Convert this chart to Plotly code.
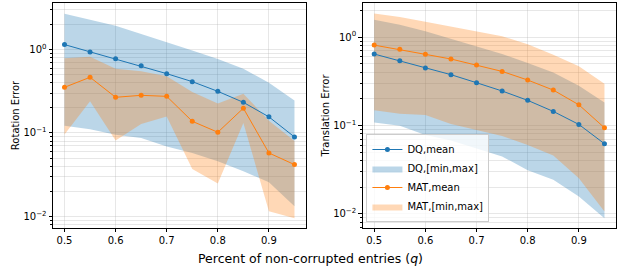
import plotly.graph_objects as go

q = [0.5, 0.55, 0.6, 0.65, 0.7, 0.75, 0.8, 0.85, 0.9, 0.95]

# Rotation error
rot_dq_mean = [1.15, 0.94, 0.78, 0.64, 0.515, 0.413, 0.316, 0.233, 0.156, 0.0895]
rot_dq_max = [2.7, 2.29, 1.94, 1.54, 1.24, 0.98, 0.77, 0.59, 0.40, 0.246]
rot_dq_min = [0.122, 0.111, 0.095, 0.087, 0.069, 0.0575, 0.0457, 0.0347, 0.0256, 0.0132]
rot_mat_mean = [0.353, 0.466, 0.268, 0.283, 0.275, 0.138, 0.102, 0.198, 0.0575, 0.0417]
rot_mat_max = [0.79, 0.82, 0.59, 0.55, 0.48, 0.31, 0.225, 0.296, 0.14, 0.08]
rot_mat_min = [0.096, 0.24, 0.081, 0.128, 0.158, 0.037, 0.0247, 0.132, 0.0115, 0.0095]

# Translation error
tr_dq_mean = [0.642, 0.54, 0.446, 0.375, 0.304, 0.245, 0.192, 0.144, 0.1026, 0.062]
tr_dq_max = [1.57, 1.38, 1.16, 0.957, 0.78, 0.642, 0.508, 0.398, 0.281, 0.182]
tr_dq_min = [0.108, 0.099, 0.078, 0.0676, 0.0554, 0.0446, 0.031, 0.0243, 0.0157, 0.0089]
tr_mat_mean = [0.81, 0.725, 0.637, 0.564, 0.482, 0.408, 0.326, 0.251, 0.171, 0.094]
tr_mat_max = [1.84, 1.68, 1.49, 1.32, 1.16, 1.02, 0.83, 0.63, 0.466, 0.296]
tr_mat_min = [0.148, 0.1355, 0.131, 0.104, 0.089, 0.076, 0.060, 0.0457, 0.0253, 0.0106]

x_ticks = [0.5, 0.6, 0.7, 0.8, 0.9]
y_major = [0.01, 0.1, 1]
y_major_text = ["10<sup>−2</sup>", "10<sup>−1</sup>", "10<sup>0</sup>"]
y_minor = [d * 10 ** e for e in (-3, -2, -1, 0) for d in range(2, 10)]

BLUE = "#1f77b4"
ORANGE = "#ff7f0e"
BLUE_FILL = "rgba(31,119,180,0.3)"
ORANGE_FILL = "rgba(255,127,14,0.3)"
FONT = "DejaVu Sans"

fig = go.Figure()


def band(xa, ya, lo, hi, color, name, show):
    fig.add_trace(go.Scatter(
        x=q + q[::-1], y=hi + lo[::-1], fill="toself", fillcolor=color,
        line=dict(width=0), mode="lines", name=name, showlegend=show,
        xaxis=xa, yaxis=ya, hoverinfo="skip"))


def mean(xa, ya, vals, color, name, show):
    fig.add_trace(go.Scatter(
        x=q, y=vals, mode="lines+markers", line=dict(color=color, width=1),
        marker=dict(color=color, size=5), name=name, showlegend=show,
        xaxis=xa, yaxis=ya))


# left panel
band("x", "y", rot_dq_min, rot_dq_max, BLUE_FILL, "DQ,[min,max]", False)
band("x", "y", rot_mat_min, rot_mat_max, ORANGE_FILL, "MAT,[min,max]", False)
mean("x", "y", rot_dq_mean, BLUE, "DQ,mean", False)
mean("x", "y", rot_mat_mean, ORANGE, "MAT,mean", False)

# right panel
band("x2", "y2", tr_dq_min, tr_dq_max, BLUE_FILL, "DQ,[min,max]", True)
band("x2", "y2", tr_mat_min, tr_mat_max, ORANGE_FILL, "MAT,[min,max]", True)
mean("x2", "y2", tr_dq_mean, BLUE, "DQ,mean", True)
mean("x2", "y2", tr_mat_mean, ORANGE, "MAT,mean", True)

# legend order
fig.data[6].legendrank = 1
fig.data[4].legendrank = 2
fig.data[7].legendrank = 3
fig.data[5].legendrank = 4

GRID = "rgba(176,176,176,0.3)"

xax = dict(range=[0.4775, 0.9725], tickvals=x_ticks, ticktext=[str(v) for v in x_ticks],
           ticks="outside", ticklen=3.5, tickwidth=0.8, tickcolor="black",
           showline=True, linecolor="black", linewidth=1, mirror=True,
           showgrid=True, gridcolor=GRID, gridwidth=0.8, zeroline=False, automargin=False,
           tickfont=dict(size=10, color="black", family=FONT))


def yax(rng, title):
    return dict(type="log", range=rng, tickvals=y_major, ticktext=y_major_text,
                ticks="outside", ticklen=3.5, tickwidth=0.8, tickcolor="black",
                showline=True, linecolor="black", linewidth=1, mirror=True,
                showgrid=True, gridcolor=GRID, gridwidth=0.8, zeroline=False, automargin=False,
                tickfont=dict(size=10, color="black", family=FONT),
                title=dict(text=title, font=dict(size=10, color="black", family=FONT), standoff=1),
                minor=dict(tickmode="array", tickvals=y_minor, ticks="outside", ticklen=2,
                           tickwidth=0.6, tickcolor="black", showgrid=True,
                           gridcolor=GRID, gridwidth=0.8))


fig.update_layout(
    width=620, height=272,
    margin=dict(l=0, r=0, t=0, b=0, autoexpand=False),
    paper_bgcolor="white", plot_bgcolor="white",
    font=dict(family=FONT, color="black"),
    xaxis=dict(domain=[0.0855, 0.4935], anchor="y", **xax),
    yaxis=dict(domain=[0.162, 0.989], anchor="x", **yax([-2.14, 0.56], "Rotation Error")),
    xaxis2=dict(domain=[0.585, 0.9935], anchor="y2", **xax),
    yaxis2=dict(domain=[0.162, 0.989], anchor="x2", **yax([-2.16, 0.385], "Translation Error")),
    legend=dict(x=0.591, y=1 - 222 / 272, xanchor="left", yanchor="bottom",
                bgcolor="rgba(255,255,255,0.8)", bordercolor="#cccccc", borderwidth=1,
                font=dict(size=10, family=FONT, color="black"),
                tracegroupgap=0, itemwidth=30),
    annotations=[dict(text="Percent of non-corrupted entries (<i>q</i>)", x=0.5,
                      y=1 - 258 / 272, yanchor="middle",
                      xref="paper", yref="paper", showarrow=False,
                      font=dict(size=12.5, family=FONT, color="black"))],
    showlegend=True,
)

fig.write_html("out.html", config={"displayModeBar": False},
               post_script="document.body.style.margin='0';document.body.style.overflow='hidden';")
